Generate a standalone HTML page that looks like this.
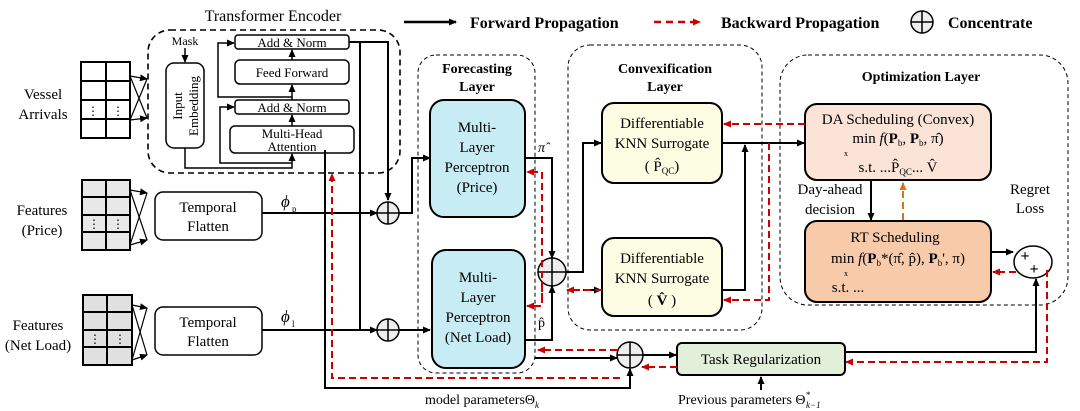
<!DOCTYPE html>
<html><head><meta charset="utf-8"><style>
html,body{margin:0;padding:0;background:#fff;}
svg{display:block;font-family:"Liberation Serif",serif;}
</style></head><body>
<svg width="1080" height="411" viewBox="0 0 1080 411" xmlns="http://www.w3.org/2000/svg">
<defs>
<marker id="a" markerWidth="8" markerHeight="8" refX="7" refY="4" orient="auto" markerUnits="userSpaceOnUse"><path d="M0,0.5 L8,4 L0,7.5z" fill="#000"/></marker>
<marker id="r" markerWidth="8" markerHeight="8" refX="7" refY="4" orient="auto" markerUnits="userSpaceOnUse"><path d="M0,0.5 L8,4 L0,7.5z" fill="#c00"/></marker>
<marker id="o" markerWidth="8" markerHeight="8" refX="7" refY="4" orient="auto" markerUnits="userSpaceOnUse"><path d="M0,0.5 L8,4 L0,7.5z" fill="#d8731c"/></marker>
</defs>

<!-- legend -->
<line x1="404" y1="22" x2="456" y2="22" stroke="#000" stroke-width="2.5" marker-end="url(#a)"/>
<text x="470" y="28" font-size="16" font-weight="bold">Forward Propagation</text>
<line x1="654" y1="22" x2="700" y2="22" stroke="#c00" stroke-width="2.5" stroke-dasharray="7,5" marker-end="url(#r)"/>
<text x="721" y="28" font-size="16" font-weight="bold">Backward Propagation</text>
<circle cx="922" cy="22" r="11" fill="#eee" stroke="#000" stroke-width="1.5"/>
<line x1="911" y1="22" x2="933" y2="22" stroke="#000" stroke-width="1.5"/><line x1="922" y1="11" x2="922" y2="33" stroke="#000" stroke-width="1.5"/>
<text x="948" y="28" font-size="16" font-weight="bold">Concentrate</text>

<!-- group boxes -->
<text x="273" y="21" font-size="16" text-anchor="middle">Transformer Encoder</text>
<rect x="148" y="30" width="252" height="143" rx="22" fill="none" stroke="#000" stroke-width="1.6" stroke-dasharray="6,4"/>
<rect x="418" y="55" width="117" height="318" rx="18" fill="none" stroke="#000" stroke-width="1" stroke-dasharray="4,3"/>
<text x="477" y="73" font-size="14" font-weight="bold" text-anchor="middle">Forecasting</text>
<text x="477" y="91" font-size="14" font-weight="bold" text-anchor="middle">Layer</text>
<rect x="568" y="45" width="194" height="285" rx="22" fill="none" stroke="#000" stroke-width="1" stroke-dasharray="4,3"/>
<text x="665" y="73" font-size="14" font-weight="bold" text-anchor="middle">Convexification</text>
<text x="665" y="91" font-size="14" font-weight="bold" text-anchor="middle">Layer</text>
<rect x="780" y="55" width="288" height="250" rx="28" fill="none" stroke="#000" stroke-width="1" stroke-dasharray="4,3"/>
<text x="921" y="81" font-size="14" font-weight="bold" text-anchor="middle">Optimization Layer</text>

<!-- input grids -->
<g stroke="#000" stroke-width="2">
<rect x="81" y="62" width="49" height="76" fill="#fff"/>
<line x1="106" y1="62" x2="106" y2="138"/><line x1="81" y1="81" x2="130" y2="81"/><line x1="81" y1="100" x2="130" y2="100"/><line x1="81" y1="119" x2="130" y2="119"/>
<rect x="82" y="180" width="48" height="70" fill="#e8e8e8"/>
<line x1="106" y1="180" x2="106" y2="250"/><line x1="82" y1="197" x2="130" y2="197"/><line x1="82" y1="215" x2="130" y2="215"/><line x1="82" y1="232" x2="130" y2="232"/>
<rect x="83" y="295" width="49" height="70" fill="#e0e0e0"/>
<line x1="107" y1="295" x2="107" y2="365"/><line x1="83" y1="312" x2="132" y2="312"/><line x1="83" y1="330" x2="132" y2="330"/><line x1="83" y1="347" x2="132" y2="347"/>
</g>
<g fill="#000">
<text x="93" y="115" font-size="12" text-anchor="middle">⋮</text><text x="118" y="115" font-size="12" text-anchor="middle">⋮</text>
<text x="94" y="228" font-size="12" text-anchor="middle">⋮</text><text x="118" y="228" font-size="12" text-anchor="middle">⋮</text>
<text x="95" y="343" font-size="12" text-anchor="middle">⋮</text><text x="120" y="343" font-size="12" text-anchor="middle">⋮</text>
</g>
<g stroke="#000" stroke-width="1.2" fill="none">
<line x1="130" y1="76" x2="147" y2="79" marker-end="url(#a)"/><line x1="130" y1="120" x2="147" y2="118" marker-end="url(#a)"/>
<line x1="130" y1="76" x2="147" y2="118"/><line x1="130" y1="120" x2="147" y2="79"/>
<line x1="130" y1="190" x2="147" y2="193" marker-end="url(#a)"/><line x1="130" y1="245" x2="147" y2="240" marker-end="url(#a)"/>
<line x1="130" y1="190" x2="147" y2="240"/><line x1="130" y1="245" x2="147" y2="193"/>
<line x1="132" y1="305" x2="147" y2="308" marker-end="url(#a)"/><line x1="132" y1="360" x2="147" y2="355" marker-end="url(#a)"/>
<line x1="132" y1="305" x2="147" y2="355"/><line x1="132" y1="360" x2="147" y2="308"/>
</g>
<g font-size="15" text-anchor="middle">
<text x="43" y="99">Vessel</text><text x="43" y="119">Arrivals</text>
<text x="42" y="215">Features</text><text x="42" y="235">(Price)</text>
<text x="38" y="330">Features</text><text x="38" y="350">(Net Load)</text>
</g>

<!-- transformer internals -->
<text x="185" y="45" font-size="12" text-anchor="middle">Mask</text>
<line x1="185" y1="48" x2="185" y2="62" stroke="#000" stroke-width="1.5" marker-end="url(#a)"/>
<rect x="166" y="63" width="38" height="85" rx="8" fill="#fff" stroke="#000" stroke-width="1.5"/>
<text transform="translate(182,106) rotate(-90)" font-size="13" text-anchor="middle">Input</text>
<text transform="translate(198,106) rotate(-90)" font-size="13" text-anchor="middle">Embedding</text>
<g fill="#fff" stroke="#000" stroke-width="1.5">
<rect x="235" y="35" width="114" height="14" rx="3"/>
<rect x="235" y="60" width="114" height="24" rx="5"/>
<rect x="235" y="100" width="114" height="14" rx="3"/>
<rect x="230" y="126" width="124" height="27" rx="5"/>
</g>
<g font-size="13" text-anchor="middle">
<text x="292" y="47">Add &amp; Norm</text>
<text x="292" y="77">Feed Forward</text>
<text x="292" y="112">Add &amp; Norm</text>
<text x="292" y="138">Multi-Head</text>
<text x="292" y="151">Attention</text>
</g>
<g stroke="#000" stroke-width="1.5" fill="none">
<polyline points="185,148 185,168 292,168 292,154" marker-end="url(#a)"/>
<polyline points="292,163 220,163 220,107 234,107" marker-end="url(#a)"/>
<line x1="292" y1="126" x2="292" y2="115" marker-end="url(#a)"/>
<line x1="292" y1="100" x2="292" y2="85" marker-end="url(#a)"/>
<polyline points="292,97 218,97 218,43 234,43" marker-end="url(#a)"/>
<line x1="292" y1="60" x2="292" y2="50" marker-end="url(#a)"/>
</g>

<!-- temporal flatten -->
<rect x="155" y="192" width="107" height="48" rx="8" fill="#fff" stroke="#000" stroke-width="1.5"/>
<text x="208" y="212" font-size="15" text-anchor="middle">Temporal</text><text x="208" y="231" font-size="15" text-anchor="middle">Flatten</text>
<rect x="155" y="307" width="107" height="48" rx="8" fill="#fff" stroke="#000" stroke-width="1.5"/>
<text x="208" y="327" font-size="15" text-anchor="middle">Temporal</text><text x="208" y="346" font-size="15" text-anchor="middle">Flatten</text>
<text x="281" y="207" font-size="17" font-style="italic">ϕ</text><text x="292" y="212" font-size="9">p</text>
<text x="281" y="322" font-size="17" font-style="italic">ϕ</text><text x="292" y="327" font-size="9">l</text>

<!-- black main lines -->
<g stroke="#000" stroke-width="2" fill="none">
<polyline points="349,42 388,42 388,200" marker-end="url(#a)"/>
<polyline points="360,42 360,330"/>
<line x1="262" y1="213" x2="377" y2="213" marker-end="url(#a)"/>
<line x1="262" y1="330" x2="377" y2="330" marker-end="url(#a)"/>
<polyline points="325,150 325,388 630,388 630,369" marker-end="url(#a)"/>
<polyline points="399,213 412,213 412,158 430,158" marker-end="url(#a)"/>
<line x1="399" y1="330" x2="430" y2="330" marker-end="url(#a)"/>
<polyline points="525,158 552,158 552,258" marker-end="url(#a)"/>
<polyline points="525,340 552,340 552,286" marker-end="url(#a)"/>
<polyline points="566,272 583,272 583,143 601,143" marker-end="url(#a)"/>
<line x1="583" y1="290" x2="601" y2="290" marker-end="url(#a)"/>
<line x1="722" y1="143" x2="804" y2="143" marker-end="url(#a)"/>
<polyline points="722,290 745,290 745,145" marker-end="url(#a)"/>
<line x1="871" y1="180" x2="871" y2="220" marker-end="url(#a)"/>
<line x1="991" y1="252" x2="1013" y2="252" marker-end="url(#a)"/>
<polyline points="845,352 1036,352 1036,279" marker-end="url(#a)"/>
<line x1="535" y1="358" x2="617" y2="358" marker-end="url(#a)"/>
<line x1="643" y1="355" x2="676" y2="355" marker-end="url(#a)"/>
<line x1="761" y1="390" x2="761" y2="377" marker-end="url(#a)"/>
</g>

<!-- concat circles -->
<g stroke="#000" stroke-width="1.5">
<circle cx="388" cy="213" r="11" fill="#eee"/><line x1="377" y1="213" x2="399" y2="213"/><line x1="388" y1="202" x2="388" y2="224"/>
<circle cx="388" cy="330" r="11" fill="#eee"/><line x1="377" y1="330" x2="399" y2="330"/><line x1="388" y1="319" x2="388" y2="341"/>
<circle cx="552" cy="272" r="14" fill="#eee"/><line x1="538" y1="272" x2="566" y2="272"/><line x1="552" y1="258" x2="552" y2="286"/>
<circle cx="630" cy="355" r="13" fill="#eee"/><line x1="617" y1="355" x2="643" y2="355"/><line x1="630" y1="342" x2="630" y2="368"/>
<ellipse cx="1033" cy="262" rx="19" ry="16" fill="#fff"/>
</g>
<text x="1025" y="261" font-size="16" font-weight="bold" text-anchor="middle">+</text>
<text x="1034" y="274" font-size="16" font-weight="bold" text-anchor="middle">+</text>

<!-- main boxes -->
<g stroke="#000" stroke-width="2">
<rect x="430" y="100" width="95" height="117" rx="14" fill="#c8ecf4"/>
<rect x="432" y="250" width="93" height="118" rx="14" fill="#c8ecf4"/>
<rect x="602" y="103" width="120" height="80" rx="12" fill="#fdfde4"/>
<rect x="602" y="238" width="120" height="78" rx="12" fill="#fdfde4"/>
<rect x="805" y="104" width="186" height="76" rx="12" fill="#fbe4d7"/>
<rect x="805" y="221" width="186" height="81" rx="12" fill="#f7caa9"/>
<rect x="677" y="343" width="168" height="32" rx="5" fill="#e2efd9"/>
</g>
<g font-size="15" text-anchor="middle">
<text x="477" y="132">Multi-</text><text x="477" y="152">Layer</text><text x="477" y="172">Perceptron</text><text x="477" y="192">(Price)</text>
<text x="478" y="282">Multi-</text><text x="478" y="302">Layer</text><text x="478" y="322">Perceptron</text><text x="478" y="342">(Net Load)</text>
<text x="662" y="128">Differentiable</text><text x="662" y="148">KNN Surrogate</text>
<text x="662" y="171">( P̂<tspan font-size="9" dy="3">QC</tspan><tspan dy="-3">)</tspan></text>
<text x="662" y="263">Differentiable</text><text x="662" y="283">KNN Surrogate</text>
<text x="662" y="305">( <tspan font-weight="bold">V̂</tspan> )</text>
<text x="898" y="124">DA Scheduling (Convex)</text>
<text x="898" y="143">min <tspan font-style="italic">f</tspan>(<tspan font-weight="bold">P</tspan><tspan font-size="9" dy="3">b</tspan><tspan dy="-3">, </tspan><tspan font-weight="bold">P</tspan><tspan font-size="9" dy="3">b</tspan><tspan dy="-3">, π̂)</tspan></text>
<text x="898" y="172">s.t.    ...P̂<tspan font-size="9" dy="3">QC</tspan><tspan dy="-3">... V̂</tspan></text>
<text x="895" y="242">RT Scheduling</text>
<text x="898" y="263">min <tspan font-style="italic">f</tspan>(<tspan font-weight="bold">P</tspan><tspan font-size="9" dy="3">b</tspan><tspan dy="-3">*(π̂, p̂), </tspan><tspan font-weight="bold">P</tspan><tspan font-size="9" dy="3">b</tspan><tspan dy="-3">', π)</tspan></text>
<text x="848" y="292">s.t.    ...</text>
<text x="761" y="364">Task Regularization</text>
<text x="1030" y="194">Regret</text><text x="1030" y="213">Loss</text>
<text x="830" y="194">Day-ahead</text><text x="830" y="214">decision</text>
</g>
<text x="844" y="156" font-size="8">x</text>
<text x="844" y="276" font-size="8">x</text>
<text x="538" y="152" font-size="14" font-style="italic">π̂</text>
<text x="538" y="327" font-size="14">p̂</text>
<text x="425" y="404" font-size="14">model parameters<tspan>Θ</tspan><tspan font-size="9" font-style="italic" dy="4">k</tspan></text>
<text x="678" y="404" font-size="14">Previous parameters Θ<tspan font-size="9" font-style="italic" dy="-6">*</tspan><tspan font-size="9" font-style="italic" dx="-4" dy="10">k−1</tspan></text>

<!-- red backward -->
<g stroke="#c00" stroke-width="2" fill="none" stroke-dasharray="7,4">
<polyline points="1047,270 1047,362 846,362" marker-end="url(#r)"/>
<line x1="1016" y1="272" x2="993" y2="272" marker-end="url(#r)"/>
<line x1="805" y1="124" x2="724" y2="124" marker-end="url(#r)"/>
<polyline points="769,143 769,300 724,300" marker-end="url(#r)"/>
<line x1="602" y1="290" x2="567" y2="290" marker-end="url(#r)"/>
<polyline points="677,367 642,367" marker-end="url(#r)"/>
<line x1="617" y1="350" x2="538" y2="350" marker-end="url(#r)"/>
<polyline points="620,378 332,378 332,174" marker-end="url(#r)"/>
<polyline points="542,300 542,172 527,172" marker-end="url(#r)"/>
<polyline points="542,285 542,306 527,306" marker-end="url(#r)"/>
</g>
<line x1="903" y1="220" x2="903" y2="183" stroke="#d8731c" stroke-width="2" stroke-dasharray="7,4" marker-end="url(#o)"/>
</svg>
</body></html>
